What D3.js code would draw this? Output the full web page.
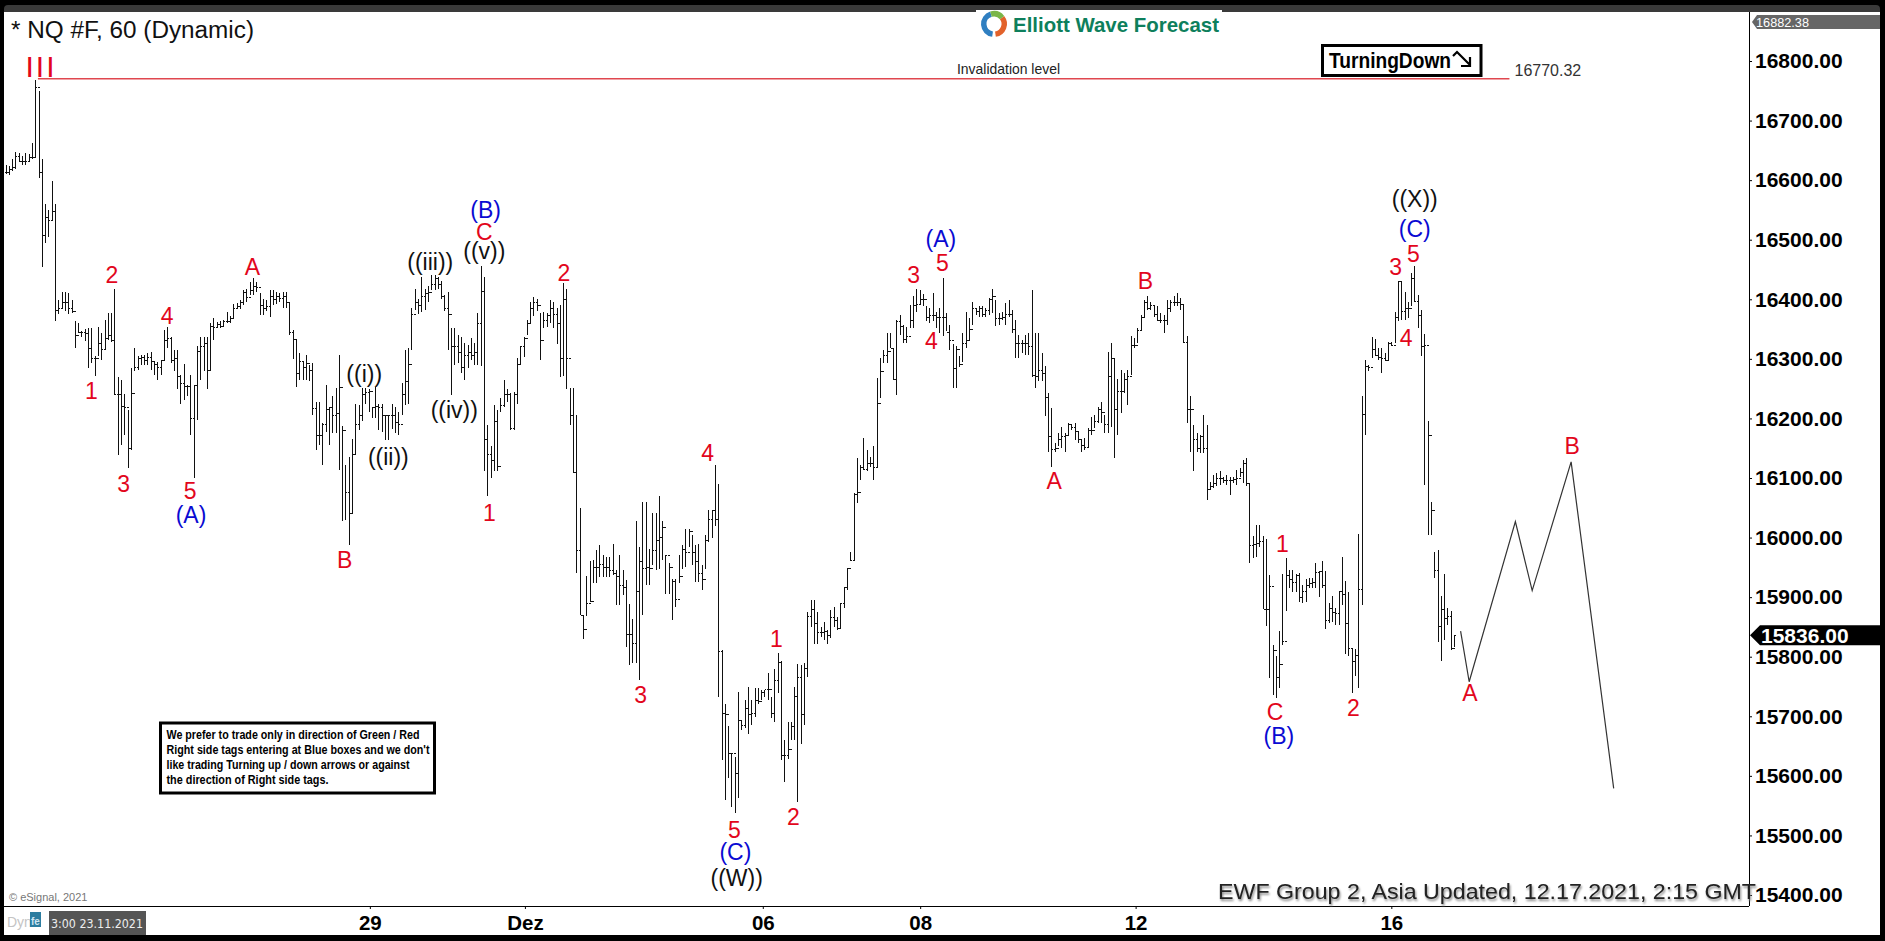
<!DOCTYPE html>
<html>
<head>
<meta charset="utf-8">
<script src="https://cdnjs.cloudflare.com/ajax/libs/d3/7.8.5/d3.min.js"></script>
<style>
  html, body { margin: 0; padding: 0; background: #000; overflow: hidden; }
  svg { display: block; }
  text { font-family: "Liberation Sans", Arial, sans-serif; }
  .axis path, .axis line { stroke: #000; }
  .axis text { font-weight: bold; fill: #000; }
</style>
</head>
<body>
<svg id="chart" width="1885" height="941"></svg>
<script>
// NQ #F hourly bars
var highs = [
  16626,16624,16635,16648,16645,16640,16646,16644,16662,16768,
  16750,16635,16560,16550,16599,16560,16399,16413,16413,16411,
  16399,16363,16361,16346,16350,16351,16351,16304,16354,16343,
  16365,16377,16377,16418,16269,16265,16241,16214,16284,16318,
  16304,16307,16307,16309,16312,16295,16295,16298,16349,16354,
  16337,16315,16315,16273,16292,16256,16273,16256,16321,16337,
  16337,16337,16360,16368,16362,16364,16365,16378,16372,16392,
  16393,16398,16415,16418,16429,16435,16429,16410,16401,16398,
  16415,16415,16412,16410,16412,16412,16395,16349,16333,16309,
  16295,16307,16290,16293,16228,16228,16192,16256,16220,16237,
  16251,16307,16187,16122,16136,16165,16224,16223,16251,16251,
  16250,16220,16252,16225,16225,16206,16206,16225,16219,16211,
  16259,16315,16318,16385,16418,16400,16438,16418,16422,16440,
  16440,16437,16430,16408,16412,16351,16351,16340,16337,16326,
  16323,16335,16326,16377,16456,16438,16189,16153,16223,16214,
  16234,16265,16250,16242,16245,16301,16321,16337,16365,16395,
  16403,16400,16377,16379,16377,16398,16396,16385,16391,16427,
  16418,16251,16251,16206,16049,15870,15935,15960,15962,15979,
  15988,15971,15968,15968,15990,15946,15971,15945,15929,15889,
  15864,16027,15985,16060,16060,15980,16041,16041,16070,16027,
  15971,15957,15931,15931,15971,15987,16015,16015,16004,15987,
  15990,15954,16004,16046,16047,16122,16090,15811,15720,15684,
  15638,15632,15741,15694,15727,15750,15727,15747,15747,15744,
  15744,15772,15733,15780,15807,15792,15660,15691,15691,15750,
  15787,15786,15789,15875,15896,15896,15875,15850,15859,15845,
  15878,15883,15867,15890,15917,15949,15976,16074,16133,16122,
  16167,16147,16136,16153,16268,16301,16315,16343,16343,16319,
  16365,16374,16357,16354,16391,16405,16417,16415,16409,16388,
  16385,16410,16379,16385,16435,16377,16357,16325,16321,16304,
  16343,16378,16368,16396,16385,16389,16388,16385,16402,16417,
  16399,16377,16379,16393,16399,16382,16366,16340,16332,16340,
  16343,16415,16343,16343,16310,16288,16243,16217,16158,16175,
  16186,16175,16192,16189,16192,16178,16164,16167,16184,16203,
  16206,16220,16228,16206,16311,16327,16301,16267,16282,16276,
  16282,16338,16335,16352,16374,16399,16405,16396,16391,16388,
  16377,16374,16399,16399,16405,16411,16402,16392,16338,16237,
  16189,16175,16172,16206,16189,16094,16105,16108,16111,16102,
  16105,16102,16102,16114,16116,16130,16133,16091,16002,16021,
  16021,16002,15997,15937,15820,15802,15843,15939,15965,15946,
  15946,15939,15941,15920,15930,15932,15932,15957,15944,15961,
  15944,15891,15902,15881,15910,15968,15927,15908,15813,15813,
  16006,16237,16298,16290,16336,16333,16318,16318,16310,16329,
  16329,16379,16430,16430,16413,16396,16444,16456,16407,16382,
  16342,16195,16060,15976,15979,15902,15939,15881,15877,15836
];
var lows = [
  16610,16609,16615,16618,16631,16625,16626,16630,16635,16637,
  16603,16454,16494,16505,16532,16363,16375,16385,16380,16375,
  16377,16318,16343,16337,16330,16284,16293,16271,16304,16298,
  16315,16332,16329,16240,16139,16155,16172,16117,16147,16279,
  16281,16290,16290,16290,16281,16273,16265,16273,16296,16318,
  16293,16279,16250,16225,16231,16237,16172,16100,16198,16265,
  16279,16250,16279,16332,16352,16351,16354,16360,16360,16368,
  16385,16384,16390,16396,16407,16407,16412,16373,16373,16380,
  16370,16390,16392,16395,16385,16385,16340,16300,16253,16265,
  16265,16265,16262,16206,16147,16155,16122,16178,16155,16175,
  16175,16114,16027,16030,15988,16040,16138,16180,16195,16225,
  16210,16200,16200,16180,16178,16164,16164,16183,16175,16172,
  16206,16223,16225,16315,16382,16375,16378,16382,16395,16415,
  16415,16418,16400,16380,16315,16240,16290,16293,16276,16265,
  16284,16298,16290,16290,16288,16111,16069,16100,16111,16111,
  16211,16220,16228,16180,16180,16225,16290,16303,16340,16360,
  16372,16380,16298,16351,16354,16360,16351,16325,16270,16272,
  16250,16189,16108,15940,15870,15830,15868,15892,15923,15923,
  15934,15934,15934,15934,15937,15887,15887,15903,15817,15786,
  15789,15789,15761,15870,15920,15920,15954,15945,15948,15962,
  15906,15906,15862,15884,15923,15948,15951,15985,15954,15926,
  15926,15912,15948,15993,16000,16020,15733,15626,15559,15596,
  15548,15537,15562,15677,15680,15671,15685,15699,15720,15727,
  15733,15727,15697,15691,15739,15626,15590,15629,15660,15660,
  15556,15654,15685,15766,15850,15822,15822,15833,15828,15822,
  15831,15850,15845,15848,15881,15912,15960,15962,16058,16097,
  16114,16111,16119,16097,16119,16234,16293,16293,16318,16265,
  16240,16340,16326,16326,16352,16352,16379,16391,16388,16363,
  16360,16363,16352,16343,16338,16346,16315,16251,16251,16287,
  16295,16318,16332,16357,16374,16371,16371,16371,16374,16377,
  16355,16357,16365,16357,16371,16344,16301,16301,16310,16307,
  16307,16270,16251,16262,16262,16204,16144,16119,16144,16153,
  16150,16144,16170,16181,16164,16158,16144,16147,16150,16172,
  16184,16192,16192,16175,16175,16186,16133,16172,16209,16242,
  16223,16273,16318,16326,16346,16371,16382,16382,16371,16363,
  16360,16343,16357,16379,16388,16388,16382,16326,16192,16144,
  16111,16144,16142,16142,16063,16080,16083,16086,16088,16091,
  16088,16072,16091,16088,16102,16091,16086,15958,15965,15968,
  15985,15880,15851,15765,15736,15731,15748,15820,15876,15915,
  15909,15909,15892,15891,15892,15915,15915,15915,15901,15915,
  15846,15856,15859,15853,15853,15887,15805,15801,15739,15768,
  15748,15886,16172,16279,16301,16304,16298,16276,16296,16298,
  16321,16326,16363,16366,16366,16368,16388,16396,16351,16304,
  16088,16004,16004,15932,15825,15792,15828,15853,15811,15817
];
var closes = [
  16612,16618,16622,16640,16632,16632,16632,16638,16638,16755,
  16612,16507,16538,16532,16547,16382,16384,16395,16395,16385,
  16380,16340,16345,16345,16342,16318,16300,16300,16325,16315,
  16335,16340,16330,16240,16240,16220,16218,16150,16242,16285,
  16300,16302,16298,16303,16295,16290,16285,16298,16330,16335,
  16298,16300,16270,16258,16253,16253,16200,16255,16312,16320,
  16325,16280,16355,16352,16358,16355,16362,16362,16368,16385,
  16388,16395,16412,16403,16415,16422,16420,16390,16385,16388,
  16405,16400,16405,16402,16405,16395,16345,16332,16275,16295,
  16285,16293,16280,16216,16172,16172,16190,16215,16218,16205,
  16208,16252,16180,16075,16040,16140,16190,16205,16240,16243,
  16245,16218,16220,16218,16205,16205,16205,16205,16193,16190,
  16240,16262,16290,16375,16395,16390,16405,16410,16412,16425,
  16435,16425,16405,16385,16375,16320,16320,16310,16285,16305,
  16310,16305,16310,16360,16413,16165,16140,16130,16195,16120,
  16222,16240,16240,16183,16240,16290,16320,16335,16360,16385,
  16395,16390,16330,16365,16372,16385,16375,16360,16300,16400,
  16300,16205,16110,15979,15870,15845,15890,15892,15950,15950,
  15955,15950,15950,15945,15940,15935,15920,15916,15837,15837,
  15822,15909,15960,15948,15950,15948,15979,15995,16000,16017,
  15970,15950,15927,15896,15935,15980,15975,16010,15975,15960,
  15940,15930,15995,16030,16045,16030,15808,15705,15703,15638,
  15638,15604,15693,15685,15713,15703,15705,15727,15725,15740,
  15745,15745,15705,15760,15790,15635,15635,15645,15683,15733,
  15765,15703,15780,15867,15880,15855,15840,15840,15843,15835,
  15865,15860,15848,15890,15917,15948,15962,16072,16075,16118,
  16115,16125,16125,16118,16225,16278,16305,16313,16318,16265,
  16362,16355,16333,16337,16365,16390,16392,16400,16400,16370,
  16372,16372,16370,16370,16370,16345,16330,16283,16315,16290,
  16325,16330,16350,16385,16380,16385,16375,16382,16400,16405,
  16368,16368,16370,16375,16375,16350,16325,16325,16325,16325,
  16320,16272,16270,16280,16275,16235,16170,16148,16150,16165,
  16170,16172,16190,16185,16178,16165,16155,16152,16180,16180,
  16195,16215,16210,16190,16270,16300,16215,16245,16245,16265,
  16270,16322,16322,16348,16370,16395,16385,16390,16375,16365,
  16365,16365,16385,16395,16395,16395,16392,16328,16215,16215,
  16165,16150,16170,16150,16080,16085,16090,16100,16100,16095,
  16095,16095,16098,16100,16110,16125,16090,15987,15988,15990,
  15993,15880,15880,15918,15811,15765,15787,15826,15936,15930,
  15924,15936,15899,15910,15920,15923,15925,15942,15943,15920,
  15861,15881,15875,15873,15910,15905,15855,15813,15792,15802,
  15913,16207,16288,16285,16315,16305,16303,16300,16298,16325,
  16322,16370,16430,16380,16385,16385,16435,16396,16373,16320,
  16322,16172,16045,15945,15850,15880,15864,15868,15814,15835
];

// projected path after the last bar
var forecastIndex = [441, 443.6, 457.6, 462.7, 474.5, 487.4];
var forecastPrice = [15843, 15758, 16027, 15911, 16127, 15579];

var priceTicks = [15400,15500,15600,15700,15800,15900,16000,16100,16200,16300,16400,16500,16600,16700,16800];
var dateTickIndex = [110.4, 157.4, 229.5, 277.2, 342.5, 420];
var dateTickLabels = ["29", "Dez", "06", "08", "12", "16"];

var invalidationPrice = 16770.32;
var lastPrice = 15836;
var topPrice = 16882.38;

var red = "#e2061c", blue = "#0a0ad2", black = "#111";
var waveText = ["1","2","3","4","5","(A)","A","B","((i))","((ii))","((iii))","((iv))","((v))","C","(B)","1","2","3","4","5","(C)","((W))","1","2","3","5","(A)","4","A","B","1","C","(B)","2","3","5","(C)","((X))","4","A","B"];
var waveIndex = [26,32.2,35.8,49,55.9,56.2,74.8,102.8,108.7,116,128.7,136,145.1,145.1,145.5,146.6,169.2,192.5,212.8,220.9,221.2,221.6,233.6,238.8,275.2,283.9,283.5,280.6,317.8,345.5,387,384.8,385.9,408.5,421.3,426.7,427.1,427.1,424.5,443.8,474.8];
var wavePrice = [16247,16441,16091,16372,16079,16039,16455,15963,16275,16136,16463,16214,16481,16513,16550,16041,16445,15736,16142,15510,15472,15429,15831,15532,16441,16461,16501,16330,16095,16432,15990,15708,15668,15714,16455,16477,16519,16568,16336,15740,16154];
var waveColor = [red,red,red,red,red,blue,red,red,black,black,black,black,black,red,blue,red,red,red,red,red,blue,black,red,red,red,red,blue,red,red,red,red,red,blue,red,red,red,blue,black,red,red,red];

var noteLines = [
  "We prefer to trade only in direction of Green / Red",
  "Right side tags entering at Blue boxes and we don't",
  "like trading Turning up / down arrows or against",
  "the direction of Right side tags."
];
var noteWidths = [253, 263, 243, 162];

var svg = d3.select("#chart");

var x = d3.scaleLinear().domain([0, highs.length - 1]).range([5.6, 1454]);
var y = d3.scaleLinear().domain([15400, 16800]).range([895, 61]);

// frame
svg.append("rect").attr("x", 4).attr("y", 5).attr("width", 1876).attr("height", 12).attr("rx", 4).attr("fill", "#3a3a3a");
svg.append("rect").attr("x", 4).attr("y", 12).attr("width", 1876).attr("height", 923).attr("fill", "#fff");

// axes
var xAxis = d3.axisBottom(x)
  .tickValues(dateTickIndex)
  .tickFormat(function(d, i) { return dateTickLabels[i]; })
  .tickSize(3).tickPadding(6.5);
var gx = svg.append("g").attr("class", "axis").attr("transform", "translate(0,906)").call(xAxis);
gx.select(".domain").remove();
gx.selectAll("text").style("font-size", "20.5px");
svg.append("line").attr("x1", 4).attr("x2", 1749).attr("y1", 906.5).attr("y2", 906.5).attr("stroke", "#000");

var yAxis = d3.axisRight(y)
  .tickValues(priceTicks)
  .tickFormat(function(d) { return d.toFixed(2); })
  .tickSize(3).tickPadding(3);
var gy = svg.append("g").attr("class", "axis").attr("transform", "translate(1749,0)").call(yAxis);
gy.select(".domain").remove();
gy.selectAll("text").style("font-size", "21px");
svg.append("line").attr("x1", 1749.5).attr("x2", 1749.5).attr("y1", 12).attr("y2", 906).attr("stroke", "#000");

// logo
svg.append("rect").attr("x", 976).attr("y", 10).attr("width", 246).attr("height", 30).attr("fill", "#fff");
var logo = svg.append("g").attr("transform", "translate(994,24)");
var arc = d3.arc().innerRadius(7.5).outerRadius(13);
logo.append("path").attr("d", arc({startAngle: -3.0, endAngle: -0.3})).attr("fill", "#2f7fc1");
logo.append("path").attr("d", arc({startAngle: 0.9, endAngle: 3.0})).attr("fill", "#e2622b");
logo.append("path").attr("d", arc({startAngle: -0.3, endAngle: 0.9})).attr("fill", "#7ab648");
svg.append("text").attr("x", 1013).attr("y", 32)
  .attr("textLength", 206).attr("lengthAdjust", "spacingAndGlyphs")
  .style("font-size", "21px").style("font-weight", "bold").attr("fill", "#0e7f5c")
  .text("Elliott Wave Forecast");

// title
svg.append("text").attr("x", 11).attr("y", 38)
  .attr("textLength", 243).attr("lengthAdjust", "spacingAndGlyphs")
  .style("font-size", "23px").attr("fill", "#111")
  .text("* NQ #F, 60 (Dynamic)");

// invalidation level
svg.append("line")
  .attr("x1", x(9.8)).attr("x2", x(455.8))
  .attr("y1", y(invalidationPrice)).attr("y2", y(invalidationPrice))
  .attr("stroke", "#e0474f").attr("stroke-width", 1.6);
svg.append("text").attr("x", 957).attr("y", 74)
  .attr("textLength", 103).attr("lengthAdjust", "spacingAndGlyphs")
  .style("font-size", "14.5px").attr("fill", "#222").text("Invalidation level");
svg.append("text").attr("x", 1514.5).attr("y", 76)
  .style("font-size", "16px").attr("fill", "#333").text(invalidationPrice.toFixed(2));
svg.append("text").attr("x", 41).attr("y", 77).attr("text-anchor", "middle")
  .style("font-size", "30px").style("letter-spacing", "2px").attr("fill", red).text("III");

// price bars
var bars = svg.append("g").attr("stroke", "#111").attr("stroke-width", 1).attr("shape-rendering", "crispEdges");
bars.selectAll("path")
  .data(highs)
  .enter().append("path")
  .attr("fill", "none")
  .attr("d", function(h, i) {
    var px = Math.round(x(i)) + 0.5;
    var open = i > 0 ? closes[i - 1] : closes[i];
    return "M" + px + "," + y(h) + "V" + y(lows[i]) +
           "M" + (px - 1.5) + "," + y(open) + "H" + px +
           "M" + px + "," + y(closes[i]) + "H" + (px + 1.5);
  });

// forecast line
var forecast = d3.line()
  .x(function(d) { return x(d); })
  .y(function(d, i) { return y(forecastPrice[i]); });
svg.append("path")
  .attr("d", forecast(forecastIndex))
  .attr("fill", "none").attr("stroke", "#333").attr("stroke-width", 1.2);

// wave labels
svg.append("g").selectAll("text")
  .data(waveText)
  .enter().append("text")
  .attr("x", function(d, i) { return x(waveIndex[i]); })
  .attr("y", function(d, i) { return y(wavePrice[i]); })
  .attr("dy", "0.36em")
  .attr("text-anchor", "middle")
  .attr("fill", function(d, i) { return waveColor[i]; })
  .style("font-size", "23px")
  .text(function(d) { return d; });

// TurningDown tag
svg.append("rect").attr("x", 1322.5).attr("y", 45.5).attr("width", 158.5).attr("height", 30)
  .attr("fill", "#fff").attr("stroke", "#000").attr("stroke-width", 3);
svg.append("text").attr("x", 1329).attr("y", 67.5)
  .attr("textLength", 122).attr("lengthAdjust", "spacingAndGlyphs")
  .style("font-size", "22px").style("font-weight", "bold").attr("fill", "#000").text("TurningDown");
svg.append("path").attr("d", "M1453,56 L1457,52 L1470,65 M1470,57 V66 H1461")
  .attr("fill", "none").attr("stroke", "#000").attr("stroke-width", 2.2);

// note box
svg.append("rect").attr("x", 160.5).attr("y", 723).attr("width", 274).attr("height", 70)
  .attr("fill", "#fff").attr("stroke", "#000").attr("stroke-width", 3);
svg.append("g").selectAll("text")
  .data(noteLines)
  .enter().append("text")
  .attr("x", 166.5)
  .attr("y", function(d, i) { return 739 + i * 15; })
  .attr("textLength", function(d, i) { return noteWidths[i]; })
  .attr("lengthAdjust", "spacingAndGlyphs")
  .style("font-size", "12px").style("font-weight", "bold").attr("fill", "#000")
  .text(function(d) { return d; });

// bottom left
svg.append("text").attr("x", 9).attr("y", 901).style("font-size", "11px").attr("fill", "#777").text("© eSignal, 2021");
svg.append("text").attr("x", 7).attr("y", 927).style("font-size", "14px").attr("fill", "#c4c4c4").text("Dyn");
svg.append("rect").attr("x", 30).attr("y", 912).attr("width", 11).attr("height", 15).attr("fill", "#2c7da0");
svg.append("text").attr("x", 31).attr("y", 925).style("font-size", "10px").style("font-weight", "bold").attr("fill", "#cfe6f2").text("fe");
svg.append("rect").attr("x", 49).attr("y", 911).attr("width", 97).attr("height", 24).attr("fill", "#555");
svg.append("text").attr("x", 51).attr("y", 928)
  .attr("textLength", 92).attr("lengthAdjust", "spacingAndGlyphs")
  .style("font-family", "'DejaVu Sans'").style("font-size", "12.5px").attr("fill", "#eee").text("3:00 23.11.2021");

// right side tags
svg.append("path").attr("d", "M1752,22 L1757,15 H1880 V29 H1757 Z").attr("fill", "#666");
svg.append("text").attr("x", 1756).attr("y", 27)
  .attr("textLength", 53).attr("lengthAdjust", "spacingAndGlyphs")
  .style("font-size", "12.5px").attr("fill", "#fff").text(topPrice.toFixed(2));
var lastY = y(lastPrice);
svg.append("path")
  .attr("d", "M1750," + lastY + " L1760," + (lastY - 10) + " H1880 V" + (lastY + 10) + " H1760 Z")
  .attr("fill", "#000");
svg.append("text").attr("x", 1761).attr("y", lastY + 7.5)
  .style("font-size", "21px").style("font-weight", "bold").attr("fill", "#fff").text(lastPrice.toFixed(2));

// update stamp
svg.append("text").attr("x", 1218).attr("y", 898.5)
  .attr("textLength", 538).attr("lengthAdjust", "spacingAndGlyphs")
  .style("font-size", "22.5px").attr("fill", "#222")
  .style("filter", "drop-shadow(1px 2px 1px #888)")
  .text("EWF Group 2, Asia Updated, 12.17.2021, 2:15 GMT");
</script>
</body>
</html>
